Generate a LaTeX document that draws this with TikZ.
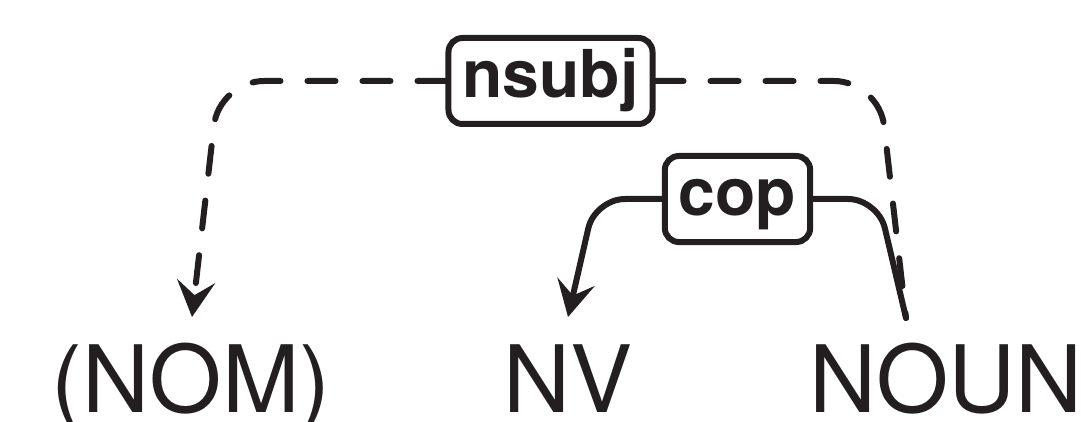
\documentclass[tikz,border=0pt]{standalone}
\usepackage{fontspec}
\setmainfont{TeX Gyre Heros}
\usetikzlibrary{arrows.meta}
\definecolor{inkc}{HTML}{231F20}
\begin{document}
\begin{tikzpicture}[x=1pt,y=-1pt,
  word/.style={inner sep=0pt, anchor=base, text=inkc, font=\fontsize{93}{93}\selectfont},
  rel/.style={draw=inkc, text=inkc, line width=6pt, rounded corners=14pt,
    font=\bfseries\fontsize{66}{66}\selectfont, inner xsep=14pt, inner ysep=0pt,
    minimum height=86pt, text height=47pt, text depth=14pt},
  dep/.style={draw=inkc, line width=6pt, line cap=round, rounded corners=45pt},
  deptip/.style={-{Stealth[length=36pt,width=38pt,inset=14pt]}},
  dashdep/.style={dash pattern=on 28pt off 27pt},
]
\useasboundingbox (0,0) rectangle (1081,422);
% words
\node[word] (nom) at (191,412) {(NOM)};
\node[word] (nv) at (568,412) {NV};
\node[word] (noun) at (946,412) {NOUN};
% relation labels
\node[rel] (nsubj) at (550.5,81) {nsubj};
\node[rel] (cop) at (737.5,199) {cop};
% end points
\coordinate (nomtop) at (192,317);
\coordinate (nvtop) at (568,317);
\coordinate (nountop) at (906,318);
\coordinate (c1) at (219,81);
\coordinate (c2) at (879,81);
\coordinate (c3) at (595,199);
\coordinate (c4) at (878,199);
% nsubj
\draw[dep,dashdep,deptip] (nsubj.west) -- (c1) -- (nomtop);
\draw[dep,dashdep] (nsubj.east) -- (c2) -- (nountop);
% cop
\draw[dep,deptip,rounded corners=30pt] (cop.west) -- (c3) -- (nvtop);
\draw[dep,rounded corners=30pt] (cop.east) -- (c4) -- (nountop);
\end{tikzpicture}
\end{document}
